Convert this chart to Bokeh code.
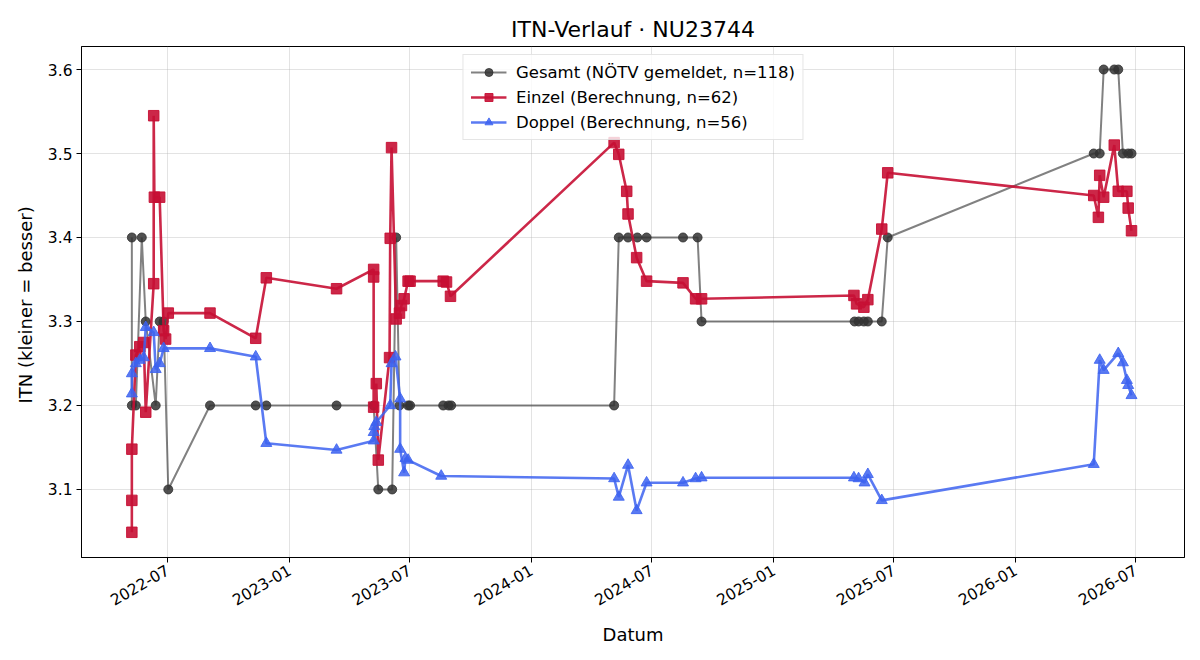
import math
import pandas as pd
from bokeh.plotting import figure
from bokeh.models import Range1d, FixedTicker, DatetimeTickFormatter
from bokeh.embed import file_html
from bokeh.resources import INLINE

# ---- data -------------------------------------------------------------
gesamt_dates = [
    "2022-05-08", "2022-05-08", "2022-05-14", "2022-05-23", "2022-05-29",
    "2022-06-13", "2022-06-19", "2022-06-25", "2022-07-02", "2022-09-03",
    "2022-11-11", "2022-11-27", "2023-03-13", "2023-05-08", "2023-05-15",
    "2023-06-05", "2023-06-11", "2023-06-16", "2023-06-29", "2023-07-02",
    "2023-08-21", "2023-08-29", "2023-09-02", "2024-05-05", "2024-05-12",
    "2024-05-26", "2024-06-09", "2024-06-23", "2024-08-17", "2024-09-08",
    "2024-09-14", "2025-05-03", "2025-05-09", "2025-05-17", "2025-05-23",
    "2025-06-13", "2025-06-22", "2026-04-29", "2026-05-08", "2026-05-14",
    "2026-05-30", "2026-06-05", "2026-06-12", "2026-06-20", "2026-06-25",
]
gesamt_itn = [
    3.4, 3.2, 3.2, 3.4, 3.3,
    3.2, 3.3, 3.3, 3.1, 3.2,
    3.2, 3.2, 3.2, 3.2, 3.1,
    3.1, 3.4, 3.2, 3.2, 3.2,
    3.2, 3.2, 3.2, 3.2, 3.4,
    3.4, 3.4, 3.4, 3.4, 3.4,
    3.3, 3.3, 3.3, 3.3, 3.3,
    3.3, 3.4, 3.5, 3.5, 3.6,
    3.6, 3.6, 3.5, 3.5, 3.5,
]

einzel_dates = [
    "2022-05-08", "2022-05-08", "2022-05-08", "2022-05-14", "2022-05-20",
    "2022-05-26", "2022-05-29", "2022-06-10", "2022-06-10", "2022-06-11",
    "2022-06-19", "2022-06-25", "2022-06-28", "2022-07-02", "2022-09-03",
    "2022-11-11", "2022-11-27", "2023-03-13", "2023-05-08", "2023-05-08",
    "2023-05-08", "2023-05-12", "2023-05-15", "2023-06-01", "2023-06-02",
    "2023-06-04", "2023-06-11", "2023-06-16", "2023-06-19", "2023-06-23",
    "2023-06-29", "2023-07-02", "2023-08-21", "2023-08-26", "2023-09-01",
    "2024-05-05", "2024-05-12", "2024-05-24", "2024-05-26", "2024-06-08",
    "2024-06-23", "2024-08-17", "2024-09-05", "2024-09-14", "2025-05-02",
    "2025-05-06", "2025-05-17", "2025-05-23", "2025-06-13", "2025-06-22",
    "2026-04-29", "2026-05-06", "2026-05-08", "2026-05-14", "2026-05-30",
    "2026-06-05", "2026-06-18", "2026-06-20", "2026-06-25",
]
einzel_itn = [
    3.049, 3.087, 3.148, 3.260, 3.270,
    3.275, 3.192, 3.345, 3.545, 3.448,
    3.448, 3.289, 3.279, 3.310, 3.310,
    3.280, 3.352, 3.339, 3.362, 3.353,
    3.198, 3.226, 3.135, 3.257, 3.399,
    3.507, 3.303, 3.310, 3.319, 3.327,
    3.348, 3.348, 3.348, 3.347, 3.330,
    3.513, 3.499, 3.455, 3.428, 3.376,
    3.348, 3.346, 3.327, 3.327, 3.331,
    3.321, 3.317, 3.326, 3.410, 3.477,
    3.450, 3.424, 3.474, 3.448, 3.510,
    3.455, 3.455, 3.435, 3.408,
]

doppel_dates = [
    "2022-05-08", "2022-05-08", "2022-05-14", "2022-05-20", "2022-05-26",
    "2022-05-29", "2022-06-10", "2022-06-13", "2022-06-19", "2022-06-25",
    "2022-09-03", "2022-11-11", "2022-11-27", "2023-03-13", "2023-05-08",
    "2023-05-08", "2023-05-09", "2023-05-12", "2023-06-02", "2023-06-04",
    "2023-06-10", "2023-06-17", "2023-06-17", "2023-06-23", "2023-06-25",
    "2023-06-29", "2023-08-18", "2024-05-05", "2024-05-12", "2024-05-26",
    "2024-06-08", "2024-06-23", "2024-08-17", "2024-09-05", "2024-09-14",
    "2025-05-02", "2025-05-09", "2025-05-18", "2025-05-23", "2025-06-13",
    "2026-04-29", "2026-05-08", "2026-05-14", "2026-06-05", "2026-06-12",
    "2026-06-18", "2026-06-20", "2026-06-25",
]
doppel_itn = [
    3.214, 3.238, 3.250, 3.254, 3.257,
    3.293, 3.287, 3.243, 3.250, 3.268,
    3.268, 3.258, 3.155, 3.147, 3.158,
    3.168, 3.175, 3.180, 3.200, 3.250,
    3.258, 3.208, 3.148, 3.120, 3.137,
    3.135, 3.116, 3.113, 3.091, 3.129,
    3.075, 3.108, 3.108, 3.113, 3.114,
    3.114, 3.113, 3.108, 3.118, 3.087,
    3.130, 3.254, 3.242, 3.262, 3.251,
    3.230, 3.224, 3.212,
]

tick_months = ["2022-07", "2023-01", "2023-07", "2024-01", "2024-07",
               "2025-01", "2025-07", "2026-01", "2026-07"]
y_ticks = [3.1, 3.2, 3.3, 3.4, 3.5, 3.6]

FONT = "DejaVu Sans"

# ---- figure -----------------------------------------------------------
p = figure(
    width=1200, height=660,
    x_axis_type="datetime",
    x_range=Range1d(pd.Timestamp("2022-02-21"), pd.Timestamp("2026-09-13")),
    y_range=Range1d(3.019, 3.6274),
    output_backend="svg", toolbar_location=None,
    min_border_left=81, min_border_right=16,
    min_border_top=46, min_border_bottom=103,
    title="ITN-Verlauf · NU23744",
)
p.background_fill_color = "white"
p.border_fill_color = "white"
p.outline_line_color = "black"
p.outline_line_width = 1
p.outline_line_alpha = 1

p.title.align = "center"
p.title.text_font = FONT
p.title.text_font_size = "22px"
p.title.text_font_style = "normal"
p.title.text_color = "black"

# label, dates, values, colour, line alpha, marker alpha, width, marker, size
series = [
    ("Gesamt (NÖTV gemeldet, n=118)", gesamt_dates, gesamt_itn,
     "#333333", 0.62, 0.85, 2.0, "circle", 9),
    ("Einzel (Berechnung, n=62)", einzel_dates, einzel_itn,
     "#c70f34", 0.9, 0.9, 2.6, "square", 10.5),
    ("Doppel (Berechnung, n=56)", doppel_dates, doppel_itn,
     "#3d63f0", 0.85, 0.85, 2.6, "triangle", 11),
]
for label, dates, vals, color, la, ma, lw, marker, size in series:
    xs = pd.to_datetime(dates)
    p.line(xs, vals, line_color=color, line_alpha=la, line_width=lw,
           legend_label=label)
    p.scatter(xs, vals, marker=marker, size=size, fill_color=color,
              fill_alpha=ma, line_color=color, line_alpha=ma,
              legend_label=label)

# ---- axes -------------------------------------------------------------
tick_ms = [pd.Timestamp(m + "-01").value / 1e6 for m in tick_months]
p.xaxis.ticker = FixedTicker(ticks=tick_ms)
fmt = "%Y-%m"
p.xaxis.formatter = DatetimeTickFormatter(
    milliseconds=fmt, seconds=fmt, minsec=fmt, minutes=fmt, hourmin=fmt,
    hours=fmt, days=fmt, months=fmt, years=fmt)
p.xaxis.major_label_orientation = math.pi / 6
p.yaxis.ticker = FixedTicker(ticks=y_ticks)

p.xaxis.axis_label = "Datum"
p.yaxis.axis_label = "ITN  (kleiner = besser)"

for ax in (p.xaxis[0], p.yaxis[0]):
    ax.axis_label_text_font = FONT
    ax.axis_label_text_font_size = "18px"
    ax.axis_label_text_font_style = "normal"
    ax.axis_label_text_color = "black"
    ax.major_label_text_font = FONT
    ax.major_label_text_font_size = "15.5px"
    ax.major_label_text_color = "black"
    ax.axis_line_color = "black"
    ax.major_tick_line_color = "black"
    ax.major_tick_out = 5
    ax.major_tick_in = 0
    ax.minor_tick_line_color = None
    ax.major_label_standoff = 4

p.yaxis.axis_label_standoff = 9
p.xaxis.axis_label_standoff = 10
p.xaxis.major_label_standoff = 6

p.grid.grid_line_color = "#b0b0b0"
p.grid.grid_line_alpha = 0.35
p.grid.grid_line_width = 1

# ---- legend -----------------------------------------------------------
lg = p.legend[0]
lg.location = "top_center"
lg.margin = 8
lg.padding = 7
lg.spacing = 5
lg.glyph_width = 36
lg.glyph_height = 20
lg.label_height = 20
lg.label_standoff = 10
lg.label_text_font = FONT
lg.label_text_font_size = "16.5px"
lg.label_text_color = "black"
lg.border_line_color = "#cccccc"
lg.border_line_width = 1
lg.background_fill_color = "white"
lg.background_fill_alpha = 0.8

open("out.html", "w").write(file_html(p, INLINE))
